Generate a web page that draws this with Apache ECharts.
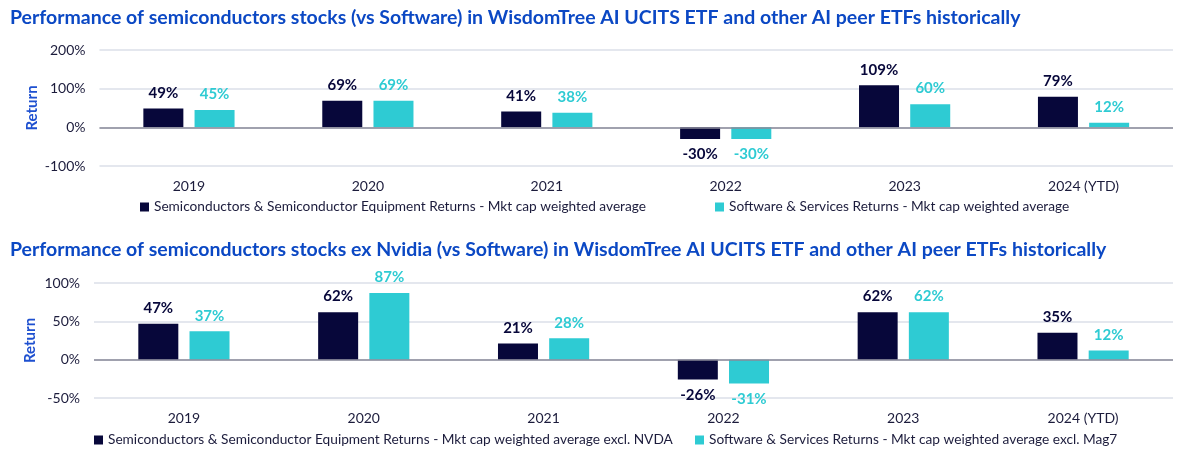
<!DOCTYPE html>
<html>
<head>
<meta charset="utf-8">
<script src="https://cdn.jsdelivr.net/npm/echarts@6/dist/echarts.min.js"></script>
<style>
  html, body { margin: 0; padding: 0; background: #fff; }
  #main { width: 1200px; height: 452px; }
</style>
</head>
<body>
<div id="main"></div>
<script>
// 数据
var categories = ['2019', '2020', '2021', '2022', '2023', '2024 (YTD)'];
var semiReturns = [49, 69, 41, -30, 109, 79];
var softReturns = [45, 69, 38, -30, 60, 12];
var semiExNvda = [47, 62, 21, -26, 62, 35];
var softExMag7 = [37, 87, 28, -31, 62, 12];
var topTicks = [-100, 0, 100, 200];
var bottomTicks = [-50, 0, 50, 100];

var navy = '#07073a';
var cyan = '#2ecbd3';
var blue = '#0b48c4';
var textColor = '#1c1c3c';
var font = 'Lato';

var names = {
  semi: 'Semiconductors & Semiconductor Equipment Returns - Mkt cap weighted average',
  soft: 'Software & Services Returns - Mkt cap weighted average',
  semiEx: 'Semiconductors & Semiconductor Equipment Returns - Mkt cap weighted average excl. NVDA',
  softEx: 'Software & Services Returns - Mkt cap weighted average excl. Mag7'
};

// 正值标签在上，负值在下
function withLabels(values) {
  return values.map(function (v) {
    return { value: v, label: { position: v < 0 ? 'bottom' : 'top' } };
  });
}

function barSeries(name, values, color, idx, withZero) {
  var s = {
    name: name,
    type: 'bar',
    xAxisIndex: idx,
    yAxisIndex: idx,
    barWidth: 40,
    barGap: '28%',
    itemStyle: { color: color },
    label: {
      show: true,
      formatter: '{c}%',
      distance: 8,
      color: color,
      fontFamily: font,
      fontWeight: 'bold',
      fontSize: 15
    },
    data: withLabels(values)
  };
  if (withZero) {
    s.markLine = {
      silent: true,
      symbol: 'none',
      label: { show: false },
      lineStyle: { color: '#8a8a98', width: 1.5, type: 'solid' },
      data: [{ yAxis: 0 }]
    };
  }
  return s;
}

function yAxis(idx, ticks, nameGap) {
  return {
    type: 'value',
    gridIndex: idx,
    min: ticks[0],
    max: ticks[ticks.length - 1],
    interval: ticks[1] - ticks[0],
    name: 'Return',
    nameLocation: 'middle',
    nameGap: nameGap,
    nameMoveOverlap: false,
    nameTextStyle: { color: '#1e50d0', fontFamily: font, fontWeight: 'bold', fontSize: 15 },
    axisLine: { show: false },
    axisTick: { show: false },
    axisLabel: { formatter: '{value}%', color: textColor, fontFamily: font, fontSize: 14, margin: 14 },
    splitLine: { lineStyle: { color: '#e4e7ee', width: 2 } }
  };
}

function xAxis(idx) {
  return {
    type: 'category',
    gridIndex: idx,
    data: categories,
    axisLine: { show: false, onZero: false },
    axisTick: { show: false },
    axisLabel: { color: textColor, fontFamily: font, fontSize: 14, margin: 13 }
  };
}

function legend(name, left, top) {
  return {
    data: [name],
    left: left,
    top: top,
    icon: 'rect',
    itemWidth: 9,
    itemHeight: 9,
    itemGap: 0,
    textStyle: { color: textColor, fontFamily: font, fontSize: 13.7 }
  };
}

var myChart = echarts.init(document.getElementById('main'));
var option = {
  animation: false,
  title: [
    {
      text: 'Performance of semiconductors stocks (vs Software) in WisdomTree AI UCITS ETF and other AI peer ETFs historically',
      left: 5, top: 3,
      textStyle: { color: blue, fontFamily: font, fontWeight: 'bold', fontSize: 19.5 }
    },
    {
      text: 'Performance of semiconductors stocks ex Nvidia (vs Software) in WisdomTree AI UCITS ETF and other AI peer ETFs historically',
      left: 5, top: 235,
      textStyle: { color: blue, fontFamily: font, fontWeight: 'bold', fontSize: 19.5 }
    }
  ],
  legend: [
    legend(names.semi, 135, 195),
    legend(names.soft, 710, 195),
    legend(names.semiEx, 89, 428),
    legend(names.softEx, 690, 428)
  ],
  grid: [
    { left: 99.5, right: 27, top: 50, bottom: 286 },
    { left: 94, right: 27, top: 283, bottom: 54 }
  ],
  xAxis: [xAxis(0), xAxis(1)],
  yAxis: [yAxis(0, topTicks, 60), yAxis(1, bottomTicks, 56)],
  series: [
    barSeries(names.semi, semiReturns, navy, 0, true),
    barSeries(names.soft, softReturns, cyan, 0, false),
    barSeries(names.semiEx, semiExNvda, navy, 1, true),
    barSeries(names.softEx, softExMag7, cyan, 1, false)
  ]
};
myChart.setOption(option);
</script>
</body>
</html>
